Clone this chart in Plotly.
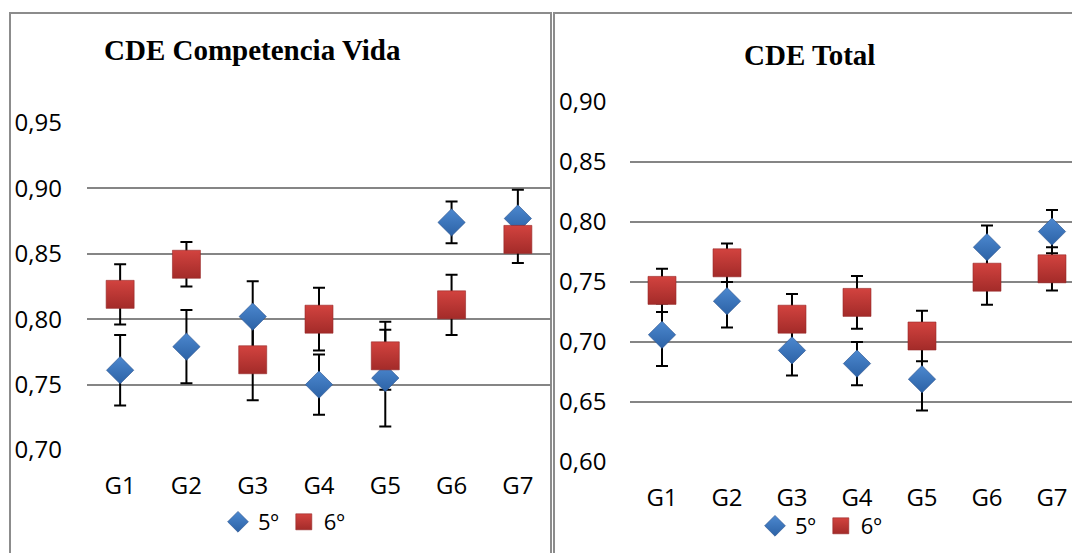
import plotly.graph_objects as go

# Group labels and series (means with error half-widths)
groups = ["G1", "G2", "G3", "G4", "G5", "G6", "G7"]

vida_5 = [0.761, 0.779, 0.802, 0.750, 0.755, 0.874, 0.877]
vida_5_err = [0.027, 0.028, 0.027, 0.023, 0.037, 0.016, 0.022]
vida_6 = [0.819, 0.842, 0.769, 0.800, 0.772, 0.811, 0.861]
vida_6_err = [0.023, 0.017, 0.031, 0.024, 0.026, 0.023, 0.018]

total_5 = [0.706, 0.734, 0.693, 0.682, 0.669, 0.779, 0.792]
total_5_err = [0.026, 0.022, 0.021, 0.018, 0.026, 0.018, 0.018]
total_6 = [0.743, 0.766, 0.719, 0.733, 0.705, 0.754, 0.761]
total_6_err = [0.018, 0.016, 0.021, 0.022, 0.021, 0.023, 0.018]

series_names = ["5º", "6º"]
vida_ticks = [0.70, 0.75, 0.80, 0.85, 0.90, 0.95]
total_ticks = [0.60, 0.65, 0.70, 0.75, 0.80, 0.85, 0.90]

W, H = 1072, 553
BLUE, BLUE_DARK = "#4C88CF", "#2C62A6"
RED, RED_DARK = "#D2433F", "#A32B29"
GRID = "#858585"
TICK_FONT = dict(family="Open Sans", size=24, color="#000000")
LEGEND_FONT = dict(family="Open Sans", size=22, color="#000000")

fig = go.Figure()


def add_panel(xa, ya, legend, s5, e5, s6, e6):
    # error bars first so every marker sits above them
    for vals, errs in ((s5, e5), (s6, e6)):
        fig.add_trace(go.Scatter(
            x=groups, y=vals, mode="markers", xaxis=xa, yaxis=ya,
            marker=dict(size=1, opacity=0), showlegend=False, hoverinfo="skip",
            error_y=dict(type="data", array=errs, visible=True,
                         color="#000000", thickness=2, width=6),
        ))
    fig.add_trace(go.Scatter(
        x=groups, y=s5, mode="markers", name=series_names[0], xaxis=xa, yaxis=ya,
        legend=legend, cliponaxis=False,
        marker=dict(symbol="diamond", size=21, color=BLUE,
                    gradient=dict(type="vertical", color=BLUE_DARK),
                    line=dict(color="rgba(40,80,140,0.6)", width=1)),
    ))
    fig.add_trace(go.Scatter(
        x=groups, y=s6, mode="markers", name=series_names[1], xaxis=xa, yaxis=ya,
        legend=legend, cliponaxis=False,
        marker=dict(symbol="square", size=28, color=RED,
                    gradient=dict(type="vertical", color=RED_DARK),
                    line=dict(color="rgba(150,40,40,0.6)", width=1)),
    ))


add_panel("x", "y", "legend", vida_5, vida_5_err, vida_6, vida_6_err)
add_panel("x2", "y2", "legend2", total_5, total_5_err, total_6, total_6_err)

axis_common = dict(showline=False, zeroline=False, ticks="", tickfont=TICK_FONT)

fig.update_layout(
    width=W, height=H,
    margin=dict(l=0, r=0, t=0, b=0, autoexpand=False),
    paper_bgcolor="white", plot_bgcolor="white",
    separators=",.",
    xaxis=dict(domain=[87 / W, 551 / W], range=[-0.5, 6.5], anchor="y",
               showgrid=False, ticklabelstandoff=19, **axis_common),
    yaxis=dict(domain=[1 - 450 / H, 1 - 123 / H], range=[0.70, 0.95], anchor="x",
               tickvals=vida_ticks, tickformat=".2f", showgrid=True,
               gridcolor=GRID, gridwidth=1.5, ticklabelstandoff=24, **axis_common),
    xaxis2=dict(domain=[629.5 / W, 1.0], range=[-0.5, 6.308], anchor="y2",
                showgrid=False, ticklabelstandoff=19, **axis_common),
    yaxis2=dict(domain=[1 - 462 / H, 1 - 102 / H], range=[0.60, 0.90], anchor="x2",
                tickvals=total_ticks, tickformat=".2f", showgrid=True,
                gridcolor=GRID, gridwidth=1.5, ticklabelstandoff=22, **axis_common),
    legend=dict(orientation="h", x=284 / W, y=1 - 522 / H, xanchor="center",
                yanchor="middle", font=LEGEND_FONT, bgcolor="rgba(0,0,0,0)",
                itemwidth=30, tracegroupgap=0),
    legend2=dict(orientation="h", x=821 / W, y=1 - 526 / H, xanchor="center",
                 yanchor="middle", font=LEGEND_FONT, bgcolor="rgba(0,0,0,0)",
                 itemwidth=30, tracegroupgap=0),
    showlegend=True,
    annotations=[
        dict(text="<b>CDE Competencia Vida</b>", x=252 / W, y=1 - 50 / H,
             xref="paper", yref="paper", showarrow=False,
             xanchor="center", yanchor="middle",
             font=dict(family="Liberation Serif", size=29, color="#000000")),
        dict(text="<b>CDE Total</b>", x=809 / W, y=1 - 55 / H,
             xref="paper", yref="paper", showarrow=False,
             xanchor="center", yanchor="middle",
             font=dict(family="Liberation Serif", size=29, color="#000000")),
    ],
    shapes=[
        dict(type="rect", xref="paper", yref="paper",
             x0=10 / W, x1=551 / W, y0=-0.05, y1=1 - 13 / H,
             line=dict(color="#8c8c8c", width=2), layer="below"),
        dict(type="rect", xref="paper", yref="paper",
             x0=554 / W, x1=1.05, y0=-0.05, y1=1 - 13 / H,
             line=dict(color="#8c8c8c", width=2), layer="below"),
    ],
)

fig.write_html("out.html")
